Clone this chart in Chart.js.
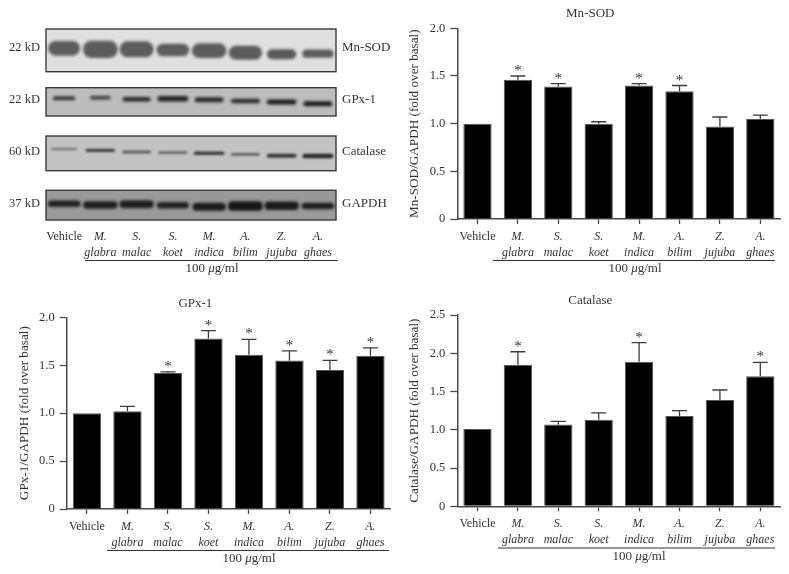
<!DOCTYPE html>
<html>
<head>
<meta charset="utf-8">
<script src="https://cdn.jsdelivr.net/npm/chart.js@4"></script>
<style>
  html, body { margin: 0; padding: 0; background: #fff; }
  body { width: 789px; height: 574px; position: relative; overflow: hidden; }
  canvas { position: absolute; }
</style>
</head>
<body>
<canvas id="blot" style="left:0;top:0"></canvas>
<canvas id="mnsod" style="left:400px;top:0"></canvas>
<canvas id="gpx" style="left:0;top:290px"></canvas>
<canvas id="catalase" style="left:400px;top:290px"></canvas>
<script>
const categories = ['Vehicle', ['M.', 'glabra'], ['S.', 'malac'], ['S.', 'koet'], ['M.', 'indica'], ['A.', 'bilim'], ['Z.', 'jujuba'], ['A.', 'ghaes']];
const doseLabel = ['100 ', 'μ', 'g/ml'];

// bar heights and top of the error bar
const mnsodValues = [1.0, 1.46, 1.39, 1.0, 1.40, 1.34, 0.97, 1.05];
const mnsodTops = [null, 1.50, 1.42, 1.02, 1.42, 1.40, 1.07, 1.09];
const mnsodStars = [0, 1, 1, 0, 1, 1, 0, 0];
const mnsodTicks = [0, 0.5, 1.0, 1.5, 2.0];

const gpxValues = [1.0, 1.02, 1.42, 1.78, 1.61, 1.55, 1.45, 1.60];
const gpxTops = [null, 1.07, 1.43, 1.86, 1.77, 1.65, 1.55, 1.68];
const gpxStars = [0, 0, 1, 1, 1, 1, 1, 1];
const gpxTicks = [0, 0.5, 1.0, 1.5, 2.0];

const catalaseValues = [1.01, 1.85, 1.07, 1.13, 1.89, 1.18, 1.39, 1.70];
const catalaseTops = [null, 2.02, 1.11, 1.22, 2.14, 1.25, 1.52, 1.88];
const catalaseStars = [0, 1, 0, 0, 1, 0, 0, 1];
const catalaseTicks = [0, 0.5, 1.0, 1.5, 2.0, 2.5];

// western blot: one band per lane, measured as migration distance
const blotNames = ['Mn-SOD', 'GPx-1', 'Catalase', 'GAPDH'];
const blotSizes = ['22 kD', '22 kD', '60 kD', '37 kD'];
const blotRanges = [[1, 43.7], [59.7, 88], [108, 142.7], [162.3, 192]];
const blotShades = ['#e0e0e0', '#bcbcbc', '#c2c2c2', '#9a9a9a'];
const blotSoftness = [1.8, 1.4, 1.1, 1.4];

const sodBandPos = [20.3, 21.3, 21.3, 22, 22.7, 24.7, 26.3, 25.7];
const sodBandSize = [14.7, 17.3, 16, 12.7, 14.7, 14, 10, 8.3];
const sodBandWide = [0.88, 0.95, 0.94, 0.9, 0.95, 0.92, 0.81, 0.87];
const sodBandDark = [0.63, 0.63, 0.63, 0.63, 0.63, 0.63, 0.65, 0.63];

const gpxBandPos = [70.3, 69.7, 71.3, 70.7, 71.7, 73, 74, 75.7];
const gpxBandSize = [3.6, 3.4, 4.4, 5.6, 5, 4.4, 5, 5];
const gpxBandWide = [0.62, 0.58, 0.78, 0.85, 0.8, 0.8, 0.82, 0.8];
const gpxBandDark = [0.85, 0.75, 0.85, 0.88, 0.85, 0.85, 0.92, 0.92];

const catBandPos = [121, 122.3, 124, 124.7, 125.3, 126.3, 127.7, 128];
const catBandSize = [2.4, 3.2, 2.8, 2.8, 3.6, 2.8, 4, 4.4];
const catBandWide = [0.72, 0.82, 0.8, 0.8, 0.85, 0.8, 0.82, 0.85];
const catBandDark = [0.4, 0.7, 0.55, 0.5, 0.75, 0.55, 0.75, 0.85];

const gapdhBandPos = [175.7, 177, 176.3, 177.3, 178.7, 178, 177.7, 178];
const gapdhBandSize = [6.6, 7.3, 8, 6.6, 8, 9.3, 8.6, 6.6];
const gapdhBandWide = [0.9, 0.95, 0.95, 0.88, 0.92, 0.95, 0.95, 0.9];
const gapdhBandDark = [0.88, 0.9, 0.88, 0.88, 0.92, 0.95, 0.92, 0.88];

const INK = '#333';
const AXIS = '#4a4a4a';
const SERIF = '"Liberation Serif", "DejaVu Serif", serif';

const tickFont = ctx => ({ family: SERIF, size: 12, lineHeight: 16 / 12, style: ctx.index === 0 ? 'normal' : 'italic' });

// line under the extract names with the dose below it
const doseNote = {
  id: 'doseNote',
  afterDraw(chart, args, opts) {
    const ctx = chart.ctx;
    ctx.save();
    ctx.strokeStyle = INK;
    ctx.lineWidth = 1;
    ctx.beginPath();
    ctx.moveTo(opts.x0, opts.y + 0.5);
    ctx.lineTo(opts.x1, opts.y + 0.5);
    ctx.stroke();

    ctx.fillStyle = INK;
    ctx.textBaseline = 'middle';
    ctx.textAlign = 'left';
    const fonts = ['13px ' + SERIF, 'italic 13px ' + SERIF, '13px ' + SERIF];
    let total = 0;
    doseLabel.forEach((s, i) => { ctx.font = fonts[i]; total += ctx.measureText(s).width; });
    let x = opts.cx - total / 2;
    doseLabel.forEach((s, i) => {
      ctx.font = fonts[i];
      ctx.fillText(s, x, opts.textY);
      x += ctx.measureText(s).width;
    });
    ctx.restore();
  }
};

// upper error bars and significance stars
const errorBars = {
  id: 'errorBars',
  afterDatasetsDraw(chart, args, opts) {
    const ctx = chart.ctx;
    const xs = chart.scales.x, ys = chart.scales.y;
    ctx.save();
    ctx.strokeStyle = '#3c3c3c';
    ctx.lineWidth = 1.3;
    ctx.fillStyle = INK;
    ctx.font = '15px ' + SERIF;
    ctx.textAlign = 'center';
    ctx.textBaseline = 'alphabetic';
    opts.tops.forEach((top, i) => {
      if (top === null) return;
      const x = xs.getPixelForValue(i);
      const y0 = ys.getPixelForValue(chart.data.datasets[0].data[i]);
      const y1 = ys.getPixelForValue(top);
      ctx.beginPath();
      ctx.moveTo(x, y0);
      ctx.lineTo(x, y1);
      ctx.moveTo(x - 7.5, y1);
      ctx.lineTo(x + 7.5, y1);
      ctx.stroke();
      if (opts.stars[i]) ctx.fillText('*', x, y1 - 1);
    });
    ctx.restore();
  }
};

function barChart(id, box, values, tops, stars, ticks, yLabel, title, note) {
  const canvas = document.getElementById(id);
  canvas.width = box.w;
  canvas.height = box.h;
  canvas.style.width = box.w + 'px';
  canvas.style.height = box.h + 'px';
  return new Chart(canvas, {
    type: 'bar',
    data: {
      labels: categories,
      datasets: [{
        data: values,
        backgroundColor: '#000',
        borderColor: '#555',
        borderWidth: 1,
        categoryPercentage: 1,
        barPercentage: 0.7
      }]
    },
    options: {
      responsive: false,
      animation: false,
      layout: { padding: { left: 0, right: box.w - box.right, top: 0, bottom: 0 } },
      plugins: {
        legend: { display: false },
        tooltip: { enabled: false },
        title: {
          display: true,
          text: title,
          color: INK,
          font: { family: SERIF, size: 13, weight: 'normal', lineHeight: 1.2 },
          padding: { top: box.titleY - 7.8, bottom: box.top - box.titleY - 7.8 }
        },
        errorBars: { tops: tops, stars: stars },
        doseNote: note
      },
      scales: {
        x: {
          offset: true,
          afterFit: s => { s.height = box.h - box.bottom; },
          border: { display: true, color: AXIS, width: 1.5 },
          grid: { display: true, offset: false, drawOnChartArea: false, tickLength: 5, tickColor: AXIS, tickWidth: 1.3 },
          ticks: { color: INK, font: tickFont, maxRotation: 0, autoSkip: false, padding: 4.5 }
        },
        y: {
          min: ticks[0],
          max: ticks[ticks.length - 1],
          afterFit: s => { s.width = box.left; },
          afterBuildTicks: s => { s.ticks = ticks.map(v => ({ value: v })); },
          border: { display: true, color: AXIS, width: 1.5 },
          grid: { display: true, drawOnChartArea: false, tickLength: 7, tickColor: AXIS, tickWidth: 1.3 },
          ticks: {
            color: INK,
            font: { family: SERIF, size: 12.5 },
            padding: 5,
            callback: v => v === 0 ? '0' : v.toFixed(1)
          },
          title: {
            display: true,
            text: yLabel,
            color: INK,
            font: { family: SERIF, size: 13.2, lineHeight: 1.2 },
            padding: { top: box.yTitleX - 7.9, bottom: 0 }
          }
        }
      }
    },
    plugins: [errorBars, doseNote]
  });
}

barChart('mnsod', { w: 389, h: 285, left: 57.3, right: 380.5, top: 28.3, bottom: 219, titleY: 13.5, yTitleX: 15 },
  mnsodValues, mnsodTops, mnsodStars, mnsodTicks, 'Mn-SOD/GAPDH (fold over basal)', 'Mn-SOD',
  { x0: 93, x1: 375, y: 260, cx: 235, textY: 269 });

barChart('gpx', { w: 395, h: 284, left: 66.7, right: 390.7, top: 27.3, bottom: 219, titleY: 13.5, yTitleX: 25 },
  gpxValues, gpxTops, gpxStars, gpxTicks, 'GPx-1/GAPDH (fold over basal)', 'GPx-1',
  { x0: 107, x1: 389, y: 260, cx: 249, textY: 269 });

barChart('catalase', { w: 389, h: 284, left: 57.3, right: 380.5, top: 25, bottom: 216.3, titleY: 10.5, yTitleX: 15 },
  catalaseValues, catalaseTops, catalaseStars, catalaseTicks, 'Catalase/GAPDH (fold over basal)', 'Catalase',
  { x0: 98, x1: 375, y: 257.5, cx: 239, textY: 266.5 });

const blotBandRow = [20, 72, 124, 176];

// blot panels behind the bands, bands softened with a blur
const blotPanels = {
  id: 'blotPanels',
  beforeDatasetsDraw(chart) {
    const ctx = chart.ctx, ys = chart.scales.y, area = chart.chartArea;
    ctx.save();
    blotRanges.forEach((r, i) => {
      const y0 = ys.getPixelForValue(r[0]), y1 = ys.getPixelForValue(r[1]);
      ctx.fillStyle = blotShades[i];
      ctx.fillRect(area.left, y0, area.right - area.left, y1 - y0);
    });
    ctx.restore();
  },
  beforeDatasetDraw(chart, args) {
    chart.ctx.filter = 'blur(' + blotSoftness[args.index] + 'px)';
  },
  afterDatasetDraw(chart) {
    chart.ctx.filter = 'none';
  },
  afterDatasetsDraw(chart) {
    const ctx = chart.ctx, ys = chart.scales.y, area = chart.chartArea;
    ctx.save();
    ctx.strokeStyle = '#3a3a3a';
    ctx.lineWidth = 1.4;
    ctx.fillStyle = INK;
    ctx.textBaseline = 'middle';
    blotRanges.forEach((r, i) => {
      const y0 = ys.getPixelForValue(r[0]), y1 = ys.getPixelForValue(r[1]);
      ctx.strokeRect(area.left, y0, area.right - area.left, y1 - y0);
      const yc = ys.getPixelForValue(blotBandRow[i]);
      ctx.textAlign = 'right';
      ctx.font = '12.5px ' + SERIF;
      ctx.fillText(blotSizes[i], 40, yc);
      ctx.textAlign = 'left';
      ctx.font = '13px ' + SERIF;
      ctx.fillText(blotNames[i], 342, yc);
    });
    ctx.restore();
  },
  // lanes differ in band width, so resize each bar after the update
  afterDatasetsUpdate(chart) {
    const xs = chart.scales.x;
    const lane = xs.getPixelForValue(1) - xs.getPixelForValue(0);
    chart.data.datasets.forEach((ds, d) => {
      chart.getDatasetMeta(d).data.forEach((el, i) => { el.width = lane * ds.bandWide[i]; });
    });
  }
};

function bandSet(pos, size, wide, dark, radius) {
  return {
    data: pos.map((p, i) => [p - size[i] / 2, p + size[i] / 2]),
    backgroundColor: dark.map(a => 'rgba(15,15,15,' + a + ')'),
    borderRadius: radius,
    borderSkipped: false,
    bandWide: wide,
    categoryPercentage: 1,
    barPercentage: 0.9
  };
}

const blotCanvas = document.getElementById('blot');
blotCanvas.width = 400;
blotCanvas.height = 285;
blotCanvas.style.width = '400px';
blotCanvas.style.height = '285px';
new Chart(blotCanvas, {
  type: 'bar',
  data: {
    labels: categories,
    datasets: [
      bandSet(sodBandPos, sodBandSize, sodBandWide, sodBandDark, 8),
      bandSet(gpxBandPos, gpxBandSize, gpxBandWide, gpxBandDark, 3),
      bandSet(catBandPos, catBandSize, catBandWide, catBandDark, 2),
      bandSet(gapdhBandPos, gapdhBandSize, gapdhBandWide, gapdhBandDark, 4)
    ]
  },
  options: {
    responsive: false,
    animation: false,
    datasets: { bar: { grouped: false } },
    layout: { padding: { left: 46, right: 64, top: 28, bottom: 0 } },
    plugins: {
      legend: { display: false },
      tooltip: { enabled: false },
      doseNote: { x0: 85, x1: 338, y: 260, cx: 212, textY: 268.5 }
    },
    scales: {
      x: {
        offset: true,
        afterFit: s => { s.height = 65; },
        border: { display: false },
        grid: { display: false, drawTicks: false },
        ticks: { color: INK, font: tickFont, maxRotation: 0, autoSkip: false, padding: 9 }
      },
      y: { display: false, reverse: true, min: 0, max: 192 }
    }
  },
  plugins: [blotPanels, doseNote]
});
</script>
</body>
</html>
